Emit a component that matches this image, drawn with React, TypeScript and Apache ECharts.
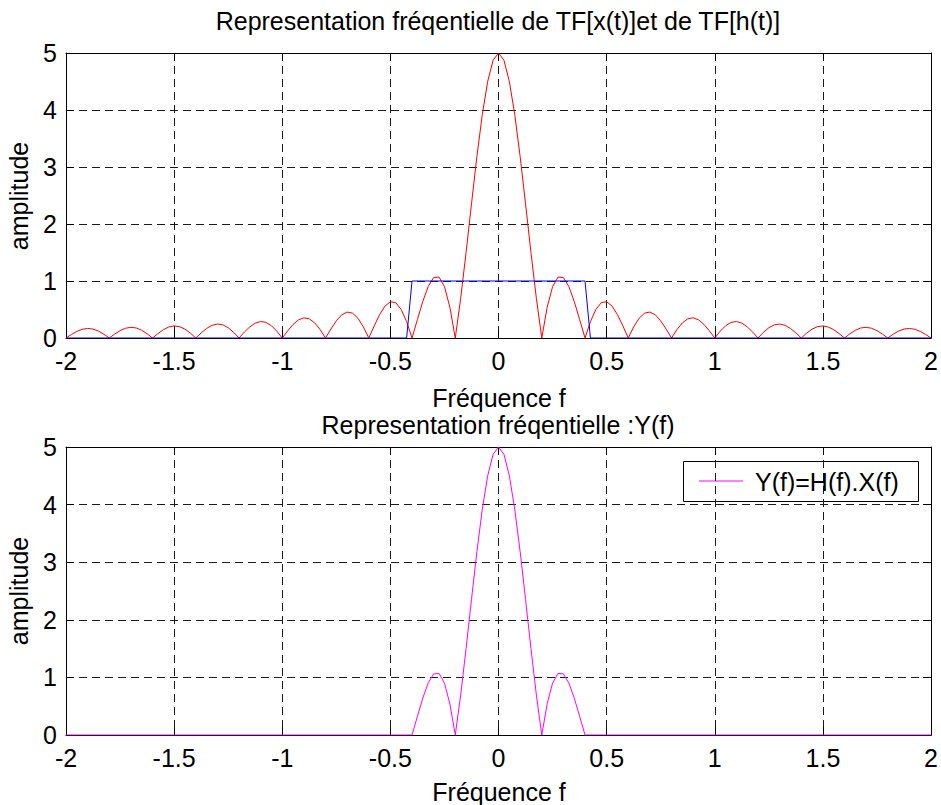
import React, { useEffect, useRef } from "react";
import * as echarts from "echarts";

// Frequency samples (Hz) of the spectra
const freq = [
  -2, -1.975, -1.95, -1.925, -1.9, -1.875, -1.85, -1.825,
  -1.8, -1.775, -1.75, -1.725, -1.7, -1.675, -1.65, -1.625,
  -1.6, -1.575, -1.55, -1.525, -1.5, -1.475, -1.45, -1.425,
  -1.4, -1.375, -1.35, -1.325, -1.3, -1.275, -1.25, -1.225,
  -1.2, -1.175, -1.15, -1.125, -1.1, -1.075, -1.05, -1.025,
  -1, -0.975, -0.95, -0.925, -0.9, -0.875, -0.85, -0.825,
  -0.8, -0.775, -0.75, -0.725, -0.7, -0.675, -0.65, -0.625,
  -0.6, -0.575, -0.55, -0.525, -0.5, -0.475, -0.45, -0.425,
  -0.4, -0.375, -0.35, -0.325, -0.3, -0.275, -0.25, -0.225,
  -0.2, -0.175, -0.15, -0.125, -0.1, -0.075, -0.05, -0.025,
  0,
  0.025, 0.05, 0.075, 0.1, 0.125, 0.15, 0.175, 0.2,
  0.225, 0.25, 0.275, 0.3, 0.325, 0.35, 0.375, 0.4,
  0.425, 0.45, 0.475, 0.5, 0.525, 0.55, 0.575, 0.6,
  0.625, 0.65, 0.675, 0.7, 0.725, 0.75, 0.775, 0.8,
  0.825, 0.85, 0.875, 0.9, 0.925, 0.95, 0.975, 1,
  1.025, 1.05, 1.075, 1.1, 1.125, 1.15, 1.175, 1.2,
  1.225, 1.25, 1.275, 1.3, 1.325, 1.35, 1.375, 1.4,
  1.425, 1.45, 1.475, 1.5, 1.525, 1.55, 1.575, 1.6,
  1.625, 1.65, 1.675, 1.7, 1.725, 1.75, 1.775, 1.8,
  1.825, 1.85, 1.875, 1.9, 1.925, 1.95, 1.975, 2,
];

// |TF[x(t)]| (red)
const xAmp = [
  0, 0.062, 0.115, 0.153, 0.168, 0.157, 0.122, 0.067,
  0, 0.069, 0.129, 0.171, 0.187, 0.176, 0.136, 0.075,
  0, 0.077, 0.145, 0.193, 0.212, 0.199, 0.155, 0.086,
  0, 0.089, 0.167, 0.222, 0.245, 0.231, 0.18, 0.099,
  0, 0.104, 0.196, 0.261, 0.289, 0.274, 0.214, 0.119,
  0, 0.125, 0.237, 0.318, 0.354, 0.336, 0.265, 0.148,
  0, 0.157, 0.3, 0.406, 0.455, 0.436, 0.346, 0.195,
  0, 0.212, 0.409, 0.56, 0.637, 0.619, 0.5, 0.287,
  0, 0.325, 0.643, 0.905, 1.061, 1.069, 0.9, 0.541,
  0, 0.696, 1.501, 2.353, 3.183, 3.921, 4.502, 4.873,
  5,
  4.873, 4.502, 3.921, 3.183, 2.353, 1.501, 0.696, 0,
  0.541, 0.9, 1.069, 1.061, 0.905, 0.643, 0.325, 0,
  0.287, 0.5, 0.619, 0.637, 0.56, 0.409, 0.212, 0,
  0.195, 0.346, 0.436, 0.455, 0.406, 0.3, 0.157, 0,
  0.148, 0.265, 0.336, 0.354, 0.318, 0.237, 0.125, 0,
  0.119, 0.214, 0.274, 0.289, 0.261, 0.196, 0.104, 0,
  0.099, 0.18, 0.231, 0.245, 0.222, 0.167, 0.089, 0,
  0.086, 0.155, 0.199, 0.212, 0.193, 0.145, 0.077, 0,
  0.075, 0.136, 0.176, 0.187, 0.171, 0.129, 0.069, 0,
  0.067, 0.122, 0.157, 0.168, 0.153, 0.115, 0.062, 0,
];

// TF[h(t)] (blue, ideal low-pass)
const hFreq = [-2, -0.425, -0.4, 0.4, 0.425, 2];
const hAmp = [0, 0, 1, 1, 0, 0];

// Y(f) = H(f).X(f) (magenta)
const yFreq = [
  -2, -0.4, -0.375, -0.35, -0.325, -0.3, -0.275, -0.25, -0.225,
  -0.2, -0.175, -0.15, -0.125, -0.1, -0.075, -0.05, -0.025, 0,
  0.025, 0.05, 0.075, 0.1, 0.125, 0.15, 0.175, 0.2,
  0.225, 0.25, 0.275, 0.3, 0.325, 0.35, 0.375, 0.4, 2,
];
const yAmp = [
  0, 0, 0.325, 0.643, 0.905, 1.061, 1.069, 0.9, 0.541,
  0, 0.696, 1.501, 2.353, 3.183, 3.921, 4.502, 4.873, 5,
  4.873, 4.502, 3.921, 3.183, 2.353, 1.501, 0.696, 0,
  0.541, 0.9, 1.069, 1.061, 0.905, 0.643, 0.325, 0, 0,
];

const title1 = "Representation fréqentielle de TF[x(t)]et de TF[h(t)]";
const title2 = "Representation fréqentielle :Y(f)";
const xLabel = "Fréquence f";
const yLabel = "amplitude";
const legendName = "Y(f)=H(f).X(f)";

const FONT = "'Liberation Sans', Arial, Helvetica, sans-serif";
const FS = 25;

function axesFor(gridIndex: number) {
  const dashed = { show: true, lineStyle: { color: "#1a1a1a", type: [8, 5] as any, width: 1 } };
  const line = { show: true, onZero: false, lineStyle: { color: "#000", width: 1 } };
  const tick = { show: true, inside: true, length: 8, lineStyle: { color: "#000", width: 1 } };
  const label = { show: true, fontSize: FS, color: "#000", fontFamily: FONT };
  const x = [
    {
      type: "value", gridIndex, min: -2, max: 2, interval: 0.5, position: "bottom",
      axisLine: line, axisTick: tick, splitLine: dashed,
      axisLabel: { ...label, margin: 10, lineHeight: FS },
    },
    {
      type: "value", gridIndex, min: -2, max: 2, interval: 0.5, position: "top",
      axisLine: line, axisTick: tick, splitLine: { show: false }, axisLabel: { show: false },
    },
  ];
  const y = [
    {
      type: "value", gridIndex, min: 0, max: 5, interval: 1, position: "left",
      axisLine: line, axisTick: tick, splitLine: dashed,
      axisLabel: { ...label, margin: 9 },
    },
    {
      type: "value", gridIndex, min: 0, max: 5, interval: 1, position: "right",
      axisLine: line, axisTick: tick, splitLine: { show: false }, axisLabel: { show: false },
    },
  ];
  return { x, y };
}

export default function App() {
  const ref = useRef<HTMLDivElement>(null);
  useEffect(() => {
    if (!ref.current) return;
    const chart = echarts.init(ref.current, null, { renderer: "svg" });
    const a0 = axesFor(0);
    const a1 = axesFor(1);
    const txt = (text: string, x: number, y: number, rotation = 0, align = "center") => ({
      type: "text",
      x, y, rotation,
      z: 10,
      style: {
        text, fill: "#000", fontSize: FS, fontFamily: FONT,
        textAlign: align, textVerticalAlign: "middle",
      },
    });
    chart.setOption({
      animation: false,
      backgroundColor: "#fff",
      grid: [
        { left: 66, top: 53, width: 866, height: 285 },
        { left: 66, top: 447, width: 866, height: 288 },
      ],
      xAxis: [...a0.x, ...a1.x],
      yAxis: [...a0.y, ...a1.y],
      series: [
        {
          name: "X", type: "line", xAxisIndex: 0, yAxisIndex: 0, showSymbol: false, symbol: "none",
          lineStyle: { color: "#ff0000", width: 1 }, itemStyle: { color: "#ff0000" },
          data: freq.map((f, i) => [f, xAmp[i]]), z: 3,
        },
        {
          name: "H", type: "line", xAxisIndex: 0, yAxisIndex: 0, showSymbol: false, symbol: "none",
          lineStyle: { color: "#0000ff", width: 1 }, itemStyle: { color: "#0000ff" },
          data: hFreq.map((f, i) => [f, hAmp[i]]), z: 4,
        },
        {
          name: legendName, type: "line", xAxisIndex: 2, yAxisIndex: 2, showSymbol: false, symbol: "none",
          lineStyle: { color: "#ff00ff", width: 1 }, itemStyle: { color: "#ff00ff" },
          data: yFreq.map((f, i) => [f, yAmp[i]]), z: 3,
        },
      ],
      graphic: [
        txt(title1, 498, 21),
        txt(xLabel, 499, 398),
        txt(title2, 498, 425),
        txt(xLabel, 499, 792),
        txt(yLabel, 19, 196, Math.PI / 2),
        txt(yLabel, 19, 591, Math.PI / 2),
        {
          type: "group",
          z: 10,
          children: [
            {
              type: "rect",
              shape: { x: 683.5, y: 461.5, width: 235, height: 40 },
              style: { fill: "#fff", stroke: "#000", lineWidth: 1 },
            },
            {
              type: "line",
              shape: { x1: 699, y1: 481, x2: 743, y2: 481 },
              style: { stroke: "#ff00ff", lineWidth: 1 },
            },
            txt(legendName, 755, 481.5, 0, "left"),
          ],
        },
      ],
    });
    return () => chart.dispose();
  }, []);
  return (
    <div
      ref={ref}
      style={{ position: "fixed", left: 0, top: 0, width: 941, height: 805, background: "#fff" }}
    />
  );
}
